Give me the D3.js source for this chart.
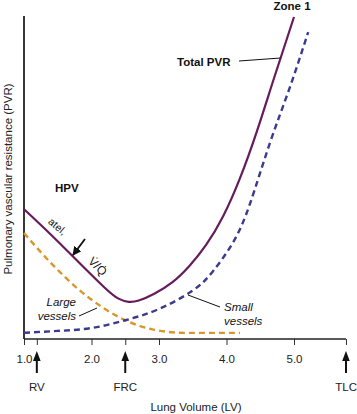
<!DOCTYPE html>
<html>
<head>
<meta charset="utf-8">
<script src="https://cdn.jsdelivr.net/npm/d3@7"></script>
<style>
  html, body { margin: 0; padding: 0; background: #fff; }
  svg { display: block; font-family: "Liberation Sans", Arial, Helvetica, sans-serif; }
</style>
</head>
<body>
<svg id="chart" width="357" height="414"></svg>
<script>
// ---- Data (lung volume in L, PVR in arbitrary units 0-100) ----
const totalLV  = [1.0, 1.4, 1.8, 2.2, 2.4, 2.55, 2.7, 2.93, 3.2, 3.45, 3.7, 3.95, 4.2, 4.45, 4.7, 5.0];
const totalPVR = [40.2, 32.3, 24.0, 15.8, 12.5, 11.5, 11.9, 14.0, 17.6, 22.6, 29.2, 38.0, 49.8, 64.3, 80.5, 99.7];

const smallLV  = [1.0, 1.5, 2.0, 2.5, 3.0, 3.5, 3.8, 4.1, 4.35, 4.64, 4.94, 5.21];
const smallPVR = [1.9, 2.5, 3.4, 5.8, 9.3, 15.0, 21.0, 30.0, 42.0, 60.5, 78.0, 95.0];

const largeLV  = [1.0, 1.4, 1.8, 2.2, 2.5, 2.9, 3.4, 4.2];
const largePVR = [32.8, 23.5, 15.5, 9.3, 5.8, 3.0, 1.9, 1.9];

const xTicks      = [1, 2, 3, 4, 5];
const xTickLabels = ["1.0", "2.0", "3.0", "4.0", "5.0"];
const markerNames = ["RV", "FRC", "TLC"];
const markerLV    = [1.19, 2.5, 5.77];

// ---- Layout ----
const svg = d3.select("#chart");
const x = d3.scaleLinear().domain([1, 5]).range([24, 294]);
const y = d3.scaleLinear().domain([0, 100]).range([339, 16]);
const axisY = y(0);

const purple = "#651c5c", blue = "#3b3a8f", orange = "#d8972c";

const defs = svg.append("defs");
defs.append("marker").attr("id", "ah").attr("viewBox", "0 0 10 10")
  .attr("refX", 9).attr("refY", 5).attr("markerWidth", 5).attr("markerHeight", 5)
  .attr("orient", "auto").attr("markerUnits", "strokeWidth")
  .append("path").attr("d", "M0,0 L10,5 L0,10 z").attr("fill", "#111");

// ---- Axes ----
const tickVals = xTicks.concat(markerLV);
const xAxis = d3.axisBottom(x).tickValues(tickVals).tickSize(6).tickSizeOuter(0).tickPadding(10)
  .tickFormat(d => { const i = xTicks.indexOf(d); return i >= 0 ? xTickLabels[i] : ""; });
const gx = svg.append("g").attr("transform", `translate(0,${axisY})`).call(xAxis);
gx.select(".domain").remove();
gx.append("line").attr("x1", x(1)).attr("x2", x(markerLV[2])).attr("y1", 0).attr("y2", 0)
  .attr("stroke", "#222").attr("stroke-width", 1.5);
gx.selectAll(".tick line").attr("stroke", "#333").attr("stroke-width", 1);
gx.selectAll(".tick text").attr("font-size", 11.5).attr("fill", "#222")
  .attr("font-family", "Liberation Sans, Arial, sans-serif");

svg.append("line").attr("x1", x(1)).attr("x2", x(1)).attr("y1", y(100)).attr("y2", axisY)
  .attr("stroke", "#222").attr("stroke-width", 1.8);

// ---- Curves ----
const zip = (a, b) => a.map((v, i) => [v, b[i]]);
const lineMono = d3.line().x(d => x(d[0])).y(d => y(d[1])).curve(d3.curveMonotoneX);
const lineNat  = d3.line().x(d => x(d[0])).y(d => y(d[1])).curve(d3.curveNatural);

svg.append("path").datum(zip(largeLV, largePVR)).attr("d", lineMono)
  .attr("fill", "none").attr("stroke", orange).attr("stroke-width", 2.4).attr("stroke-dasharray", "6,4");
svg.append("path").datum(zip(smallLV, smallPVR)).attr("d", lineNat)
  .attr("fill", "none").attr("stroke", blue).attr("stroke-width", 2.4).attr("stroke-dasharray", "6,4");
svg.append("path").datum(zip(totalLV, totalPVR)).attr("d", lineNat)
  .attr("fill", "none").attr("stroke", purple).attr("stroke-width", 2.2);

// ---- Volume markers (arrows below axis) ----
markerLV.forEach((v, i) => {
  const cx = x(v);
  svg.append("line").attr("x1", cx).attr("x2", cx).attr("y1", 373).attr("y2", 358)
    .attr("stroke", "#111").attr("stroke-width", 2);
  svg.append("path").attr("d", `M${cx},351 L${cx - 3.8},361 L${cx + 3.8},361 Z`).attr("fill", "#111");
  svg.append("text").attr("x", i === 2 ? 357 : cx).attr("y", 391)
    .attr("text-anchor", i === 2 ? "end" : "middle")
    .attr("font-size", 11.5).attr("fill", "#222").text(markerNames[i]);
});

// ---- Axis titles ----
svg.append("text").attr("x", 196).attr("y", 411).attr("text-anchor", "middle")
  .attr("font-size", 11.5).attr("fill", "#222").text("Lung Volume (LV)");
svg.append("text").attr("transform", "translate(12,179) rotate(-90)").attr("text-anchor", "middle")
  .attr("font-size", 11.5).attr("fill", "#222").text("Pulmonary vascular resistance (PVR)");

// ---- Annotations ----
svg.append("text").attr("x", 292).attr("y", 10).attr("text-anchor", "middle")
  .attr("font-size", 11.5).attr("font-weight", "bold").attr("fill", "#111").text("Zone 1");
svg.append("text").attr("x", 177).attr("y", 66).attr("font-size", 11.5)
  .attr("font-weight", "bold").attr("fill", "#111").text("Total PVR");
svg.append("line").attr("x1", 239).attr("y1", 61).attr("x2", x(4.8)).attr("y2", 58)
  .attr("stroke", "#111").attr("stroke-width", 1);

svg.append("text").attr("x", 55).attr("y", 192).attr("font-size", 11.5)
  .attr("font-weight", "bold").attr("fill", "#111").text("HPV");

svg.append("text").attr("transform", "translate(57,227) rotate(40)").attr("text-anchor", "middle")
  .attr("dominant-baseline", "middle").attr("font-size", 10.5).attr("fill", "#111").text("atel,");
svg.append("line").attr("x1", 85).attr("y1", 239).attr("x2", 73).attr("y2", 255)
  .attr("stroke", "#111").attr("stroke-width", 1.8).attr("marker-end", "url(#ah)");
svg.append("text").attr("transform", "translate(97,267) rotate(45)").attr("text-anchor", "middle")
  .attr("dominant-baseline", "middle").attr("font-size", 12).attr("fill", "#111").text("V\u0307/Q\u0307");

const lg = svg.append("g").attr("font-size", 11.5).attr("font-style", "italic").attr("fill", "#111");
lg.append("text").attr("x", 76).attr("y", 306).attr("text-anchor", "end").text("Large");
lg.append("text").attr("x", 76).attr("y", 320).attr("text-anchor", "end").text("vessels");
svg.append("line").attr("x1", 79).attr("y1", 316).attr("x2", 97).attr("y2", 308)
  .attr("stroke", "#111").attr("stroke-width", 1);

lg.append("text").attr("x", 224).attr("y", 311).text("Small");
lg.append("text").attr("x", 224).attr("y", 325).text("vessels");
svg.append("line").attr("x1", 220).attr("y1", 307).attr("x2", 188).attr("y2", 295)
  .attr("stroke", "#111").attr("stroke-width", 1);
</script>
</body>
</html>
